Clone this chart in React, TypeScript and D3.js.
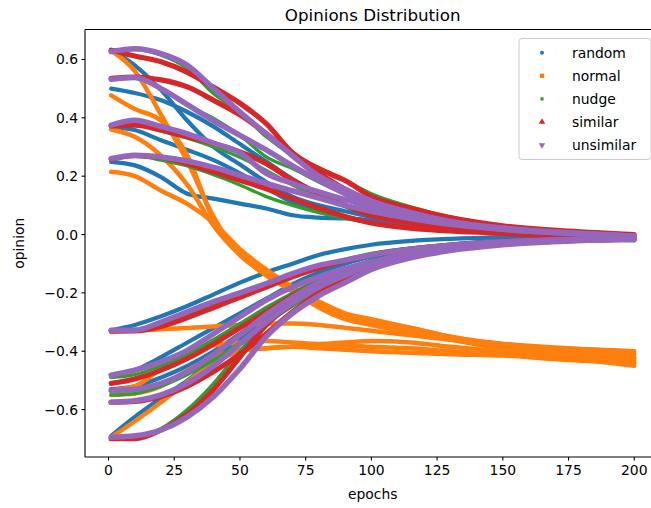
import React from 'react';
import * as d3 from 'd3';

const EPOCHS = [1, 10, 20, 30, 40, 50, 60, 70, 80, 90, 100, 115, 130, 150, 175, 200];

const SERIES = ['random', 'normal', 'nudge', 'similar', 'unsimilar'];
const COLORS = ['#1f77b4', '#ff7f0e', '#2ca02c', '#d62728', '#9467bd'];

const RANDOM_TRAJ = [
  [0.632, 0.58, 0.495, 0.39, 0.3, 0.24, 0.18, 0.13, 0.1, 0.08, 0.06, 0.045, 0.03, 0.02, 0.01, 0.0],
  [0.5, 0.485, 0.46, 0.42, 0.37, 0.31, 0.25, 0.19, 0.14, 0.1, 0.07, 0.045, 0.03, 0.015, 0.005, -0.005],
  [0.369, 0.358, 0.323, 0.29, 0.255, 0.21, 0.16, 0.11, 0.08, 0.06, 0.045, 0.03, 0.02, 0.01, 0.0, -0.01],
  [0.249, 0.237, 0.197, 0.14, 0.123, 0.106, 0.089, 0.066, 0.058, 0.055, 0.05, 0.04, 0.03, 0.018, 0.008, -0.005],
  [-0.328, -0.31, -0.28, -0.245, -0.205, -0.165, -0.13, -0.1, -0.07, -0.05, -0.035, -0.022, -0.015, -0.01, -0.008, -0.01],
  [-0.488, -0.465, -0.42, -0.37, -0.32, -0.27, -0.22, -0.17, -0.13, -0.1, -0.075, -0.05, -0.035, -0.022, -0.014, -0.012],
  [-0.53, -0.52, -0.49, -0.45, -0.4, -0.34, -0.28, -0.22, -0.17, -0.125, -0.09, -0.06, -0.04, -0.025, -0.016, -0.013],
  [-0.69, -0.625, -0.56, -0.5, -0.43, -0.36, -0.29, -0.22, -0.16, -0.12, -0.09, -0.06, -0.04, -0.025, -0.016, -0.02],
];

const NORMAL_TRAJ = [
  [0.63, 0.56, 0.41, 0.25, 0.06, -0.07, -0.13, -0.185, -0.24, -0.275, -0.295, -0.32, -0.35, -0.375, -0.395, -0.41],
  [0.477, 0.43, 0.39, 0.27, 0.05, -0.065, -0.14, -0.195, -0.25, -0.29, -0.31, -0.335, -0.36, -0.385, -0.405, -0.425],
  [0.36, 0.335, 0.27, 0.17, 0.03, -0.07, -0.14, -0.19, -0.245, -0.285, -0.305, -0.33, -0.36, -0.39, -0.41, -0.43],
  [0.215, 0.2, 0.15, 0.105, 0.04, -0.05, -0.12, -0.18, -0.23, -0.27, -0.29, -0.32, -0.35, -0.38, -0.4, -0.42],
  [-0.334, -0.33, -0.325, -0.32, -0.315, -0.31, -0.305, -0.305, -0.31, -0.32, -0.33, -0.345, -0.36, -0.375, -0.39, -0.4],
  [-0.534, -0.52, -0.46, -0.41, -0.38, -0.37, -0.365, -0.37, -0.375, -0.37, -0.365, -0.37, -0.385, -0.4, -0.42, -0.44],
  [-0.55, -0.545, -0.52, -0.465, -0.42, -0.395, -0.39, -0.385, -0.38, -0.38, -0.385, -0.39, -0.4, -0.41, -0.425, -0.45],
  [-0.695, -0.64, -0.575, -0.505, -0.44, -0.4, -0.39, -0.385, -0.39, -0.395, -0.4, -0.405, -0.41, -0.415, -0.43, -0.44],
];

const NUDGE_TRAJ = [
  [0.632, 0.634, 0.615, 0.569, 0.483, 0.42, 0.335, 0.272, 0.23, 0.186, 0.14, 0.095, 0.06, 0.03, 0.01, -0.003],
  [0.535, 0.535, 0.5, 0.443, 0.398, 0.34, 0.266, 0.226, 0.18, 0.14, 0.105, 0.07, 0.045, 0.02, 0.005, -0.006],
  [0.37, 0.375, 0.355, 0.33, 0.3, 0.265, 0.22, 0.17, 0.13, 0.095, 0.065, 0.04, 0.025, 0.012, 0.002, -0.008],
  [0.258, 0.27, 0.255, 0.235, 0.205, 0.17, 0.13, 0.1, 0.075, 0.055, 0.04, 0.025, 0.015, 0.006, -0.002, -0.01],
  [-0.33, -0.325, -0.305, -0.275, -0.24, -0.205, -0.17, -0.14, -0.11, -0.085, -0.065, -0.046, -0.034, -0.023, -0.015, -0.012],
  [-0.49, -0.48, -0.45, -0.41, -0.36, -0.305, -0.25, -0.2, -0.155, -0.12, -0.092, -0.063, -0.044, -0.029, -0.018, -0.013],
  [-0.55, -0.545, -0.52, -0.48, -0.43, -0.37, -0.305, -0.245, -0.19, -0.145, -0.108, -0.072, -0.05, -0.032, -0.02, -0.014],
  [-0.7, -0.695, -0.665, -0.6, -0.51, -0.4, -0.3, -0.23, -0.175, -0.135, -0.1, -0.07, -0.048, -0.031, -0.02, -0.014],
];

const SIMILAR_TRAJ = [
  [0.632, 0.612, 0.592, 0.556, 0.505, 0.45, 0.38, 0.28, 0.225, 0.185, 0.13, 0.09, 0.058, 0.03, 0.012, 0.0],
  [0.535, 0.54, 0.53, 0.506, 0.46, 0.41, 0.346, 0.272, 0.21, 0.155, 0.11, 0.07, 0.042, 0.02, 0.005, -0.008],
  [0.372, 0.375, 0.358, 0.335, 0.312, 0.283, 0.243, 0.186, 0.14, 0.1, 0.065, 0.04, 0.022, 0.01, 0.0, -0.01],
  [0.258, 0.27, 0.264, 0.243, 0.215, 0.186, 0.157, 0.123, 0.09, 0.062, 0.04, 0.022, 0.012, 0.004, -0.004, -0.012],
  [-0.33, -0.33, -0.315, -0.285, -0.25, -0.215, -0.18, -0.145, -0.115, -0.09, -0.07, -0.05, -0.036, -0.024, -0.016, -0.012],
  [-0.51, -0.495, -0.465, -0.425, -0.375, -0.32, -0.265, -0.21, -0.165, -0.13, -0.1, -0.068, -0.046, -0.03, -0.019, -0.014],
  [-0.575, -0.572, -0.555, -0.52, -0.47, -0.41, -0.34, -0.265, -0.2, -0.155, -0.115, -0.077, -0.052, -0.033, -0.021, -0.015],
  [-0.7, -0.7, -0.67, -0.615, -0.53, -0.42, -0.31, -0.235, -0.18, -0.14, -0.105, -0.072, -0.05, -0.032, -0.021, -0.015],
];

const UNSIMILAR_TRAJ = [
  [0.627, 0.637, 0.62, 0.58, 0.5, 0.42, 0.345, 0.27, 0.2, 0.155, 0.115, 0.075, 0.045, 0.022, 0.006, -0.006],
  [0.532, 0.538, 0.5, 0.445, 0.39, 0.34, 0.29, 0.235, 0.185, 0.14, 0.1, 0.065, 0.04, 0.018, 0.004, -0.007],
  [0.375, 0.392, 0.37, 0.345, 0.313, 0.28, 0.21, 0.175, 0.146, 0.12, 0.095, 0.065, 0.04, 0.02, 0.005, -0.006],
  [0.26, 0.272, 0.266, 0.252, 0.23, 0.203, 0.175, 0.15, 0.125, 0.1, 0.08, 0.055, 0.035, 0.018, 0.004, -0.007],
  [-0.328, -0.328, -0.3, -0.265, -0.23, -0.2, -0.168, -0.134, -0.106, -0.088, -0.07, -0.05, -0.037, -0.025, -0.017, -0.013],
  [-0.482, -0.465, -0.436, -0.397, -0.34, -0.282, -0.225, -0.18, -0.145, -0.117, -0.094, -0.065, -0.045, -0.03, -0.019, -0.014],
  [-0.534, -0.53, -0.51, -0.47, -0.41, -0.345, -0.275, -0.215, -0.165, -0.13, -0.1, -0.068, -0.047, -0.031, -0.02, -0.015],
  [-0.575, -0.57, -0.55, -0.51, -0.45, -0.375, -0.3, -0.235, -0.18, -0.14, -0.105, -0.072, -0.05, -0.032, -0.021, -0.015],
  [-0.695, -0.69, -0.67, -0.625, -0.555, -0.46, -0.35, -0.27, -0.21, -0.165, -0.12, -0.08, -0.055, -0.035, -0.022, -0.016],
];

const TRAJ = [RANDOM_TRAJ, NORMAL_TRAJ, NUDGE_TRAJ, SIMILAR_TRAJ, UNSIMILAR_TRAJ];
const WIDTHS = [4.2, 4.5, 3.3, 5.2, 5.5];

const X_TICKS = [0, 25, 50, 75, 100, 125, 150, 175, 200];
const Y_TICKS = [-0.6, -0.4, -0.2, 0, 0.2, 0.4, 0.6];

const FONT = '"DejaVu Sans", sans-serif';

export default function App() {
  const W = 651;
  const H = 508;
  const left = 85, right = 660.4, top = 29.5, bottom = 457;
  const x = d3.scaleLinear().domain([-8.95, 209.95]).range([left, right]);
  const y = d3.scaleLinear().domain([-0.7626, 0.7028]).range([bottom, top]);
  const line = d3
    .line<number>()
    .x((_, i) => x(EPOCHS[i]))
    .y((d) => y(d))
    .curve(d3.curveMonotoneX);
  const fy = d3.format('.1f');
  const fx = d3.format('d');

  const legX = 519, legY = 38.5, legW = 132, legH = 121;

  const marker = (k: number, cx: number, cy: number) => {
    const c = COLORS[k];
    if (k === 0) return <circle cx={cx} cy={cy} r={2} fill={c} />;
    if (k === 1) return <rect x={cx - 2.2} y={cy - 2.2} width={4.4} height={4.4} fill={c} />;
    if (k === 2) return <circle cx={cx} cy={cy} r={1.8} fill={c} />;
    const tri = d3.symbol().type(d3.symbolTriangle).size(18)();
    return (
      <path d={tri as string} fill={c} transform={`translate(${cx},${cy})${k === 4 ? ' rotate(180)' : ''}`} />
    );
  };

  return (
    <svg
      width={W}
      height={H}
      style={{ position: 'absolute', left: 0, top: 0, background: '#fff' }}
      fontFamily={FONT}
    >
      <rect x={0} y={0} width={W} height={H} fill="#fff" />
      <defs>
        <clipPath id="plotclip">
          <rect x={left} y={top} width={right - left} height={bottom - top} />
        </clipPath>
      </defs>
      <g clipPath="url(#plotclip)">
        {TRAJ.map((set, k) =>
          set.map((tr, j) => (
            <path
              key={`${k}-${j}`}
              d={line(tr) as string}
              fill="none"
              stroke={COLORS[k]}
              strokeWidth={WIDTHS[k]}
              strokeLinecap="round"
              strokeLinejoin="round"
            />
          ))
        )}
      </g>
      {/* spines */}
      <line x1={left} x2={left} y1={top} y2={bottom} stroke="#000" strokeWidth={1.1} />
      <line x1={left} x2={right} y1={bottom} y2={bottom} stroke="#000" strokeWidth={1.1} />
      <line x1={left} x2={right} y1={top} y2={top} stroke="#000" strokeWidth={1.1} />
      <line x1={right} x2={right} y1={top} y2={bottom} stroke="#000" strokeWidth={1.1} />
      {/* x ticks */}
      {X_TICKS.map((t) => (
        <g key={`x${t}`}>
          <line x1={x(t)} x2={x(t)} y1={bottom} y2={bottom + 3.5} stroke="#000" strokeWidth={1.1} />
          <text x={x(t)} y={bottom + 17.5} textAnchor="middle" fontSize={13.9} fill="#000">
            {fx(t)}
          </text>
        </g>
      ))}
      {/* y ticks */}
      {Y_TICKS.map((t) => (
        <g key={`y${t}`}>
          <line x1={left - 3.5} x2={left} y1={y(t)} y2={y(t)} stroke="#000" strokeWidth={1.1} />
          <text x={left - 7} y={y(t) + 5} textAnchor="end" fontSize={13.9} fill="#000">
            {fy(t)}
          </text>
        </g>
      ))}
      <text x={(left + right) / 2} y={21} textAnchor="middle" fontSize={16.7} fill="#000">
        Opinions Distribution
      </text>
      <text x={(left + right) / 2} y={499} textAnchor="middle" fontSize={13.9} fill="#000">
        epochs
      </text>
      <text
        transform={`translate(24,${(top + bottom) / 2}) rotate(-90)`}
        textAnchor="middle"
        fontSize={13.9}
        fill="#000"
      >
        opinion
      </text>
      {/* legend */}
      <rect x={legX} y={legY} width={legW} height={legH} rx={3} fill="#fff" fillOpacity={0.8} stroke="#cccccc" strokeWidth={1} />
      {SERIES.map((s, k) => {
        const cy = 52.7 + k * 23.1;
        return (
          <g key={s}>
            {marker(k, 542, cy)}
            <text x={572} y={cy + 5} fontSize={13.9} fill="#000">
              {s}
            </text>
          </g>
        );
      })}
    </svg>
  );
}
